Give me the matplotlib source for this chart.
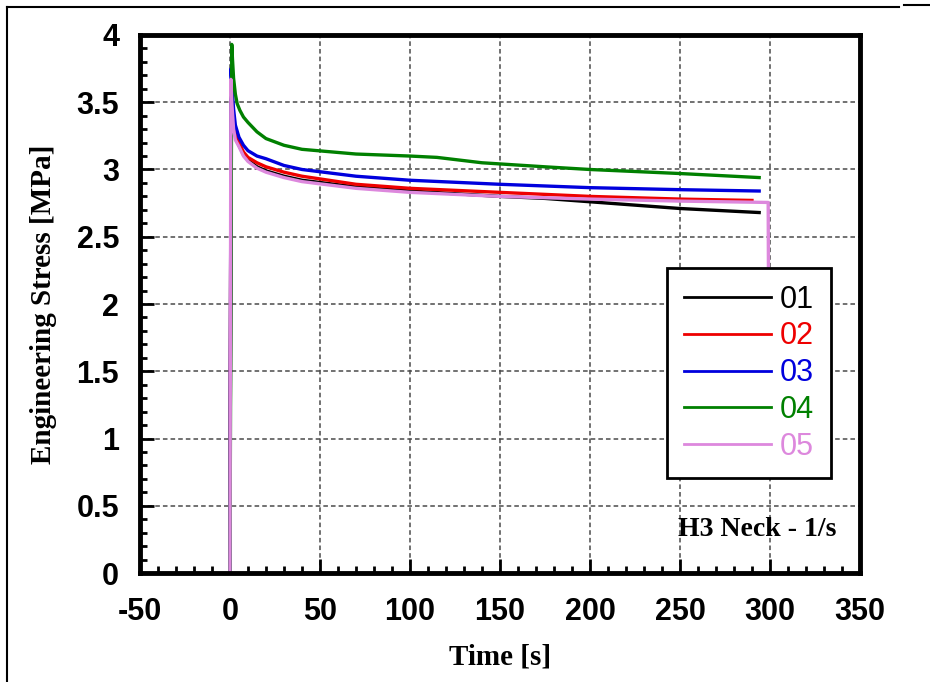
import matplotlib.pyplot as plt
from matplotlib.lines import Line2D
from matplotlib.ticker import MultipleLocator

plt.rcParams["axes.unicode_minus"] = False

# values
t01 = [0, 0.6, 1.2, 2, 3, 5, 7.5, 10, 15, 20, 30, 40, 70, 100, 150, 175, 200, 250, 294]
s01 = [0, 3.62, 3.50, 3.35, 3.26, 3.18, 3.11, 3.07, 3.02, 2.99, 2.95, 2.92, 2.87, 2.84, 2.80, 2.785, 2.76, 2.71, 2.68]

t02 = [0, 0.6, 1.2, 2, 3, 5, 7.5, 10, 15, 20, 30, 40, 70, 100, 150, 200, 250, 290]
s02 = [0, 3.65, 3.52, 3.38, 3.28, 3.20, 3.13, 3.09, 3.05, 3.02, 2.98, 2.95, 2.89, 2.86, 2.83, 2.80, 2.78, 2.77]

t03 = [0, 0.6, 1.2, 2, 3, 5, 7.5, 10, 15, 20, 30, 40, 70, 100, 150, 200, 250, 294]
s03 = [0, 3.75, 3.60, 3.45, 3.33, 3.24, 3.18, 3.14, 3.10, 3.08, 3.03, 3.00, 2.95, 2.92, 2.89, 2.865, 2.85, 2.84]

t04 = [0, 1, 1.4, 2, 3, 4, 5.5, 7.5, 10, 15, 20, 30, 40, 70, 100, 115, 140, 175, 200, 250, 294]
s04 = [0, 3.93, 3.82, 3.68, 3.56, 3.49, 3.44, 3.39, 3.35, 3.28, 3.23, 3.18, 3.15, 3.115, 3.10, 3.09, 3.05, 3.02, 3.00, 2.97, 2.94]

t05 = [0, 0.5, 1, 2, 3, 5, 7.5, 10, 15, 20, 30, 40, 70, 100, 150, 200, 250, 299, 299.5]
s05 = [0, 3.67, 3.50, 3.30, 3.22, 3.17, 3.10, 3.06, 3.01, 2.98, 2.94, 2.91, 2.86, 2.83, 2.80, 2.78, 2.765, 2.755, 1.0]

series = [
    ("01", t01, s01, "black"),
    ("02", t02, s02, "#ee0000"),
    ("03", t03, s03, "#0000dd"),
    ("04", t04, s04, "#008000"),
    ("05", t05, s05, "#dd88dd"),
]

sans = ["Liberation Sans", "DejaVu Sans"]
serif = ["Liberation Serif", "DejaVu Serif"]

fig = plt.figure(figsize=(9.3, 6.82), dpi=100)
ax = fig.add_axes([0.1505, 0.1598, 0.7742, 0.7889])

for name, t, s, c in series:
    ax.plot(t, s, color=c, lw=2.4, label=name, solid_joinstyle="round")

ax.set_xlim(-50, 350)
ax.set_ylim(0, 4)
ax.xaxis.set_major_locator(MultipleLocator(50))
ax.xaxis.set_minor_locator(MultipleLocator(10))
ax.yaxis.set_minor_locator(MultipleLocator(0.1))
ax.set_yticks([0, 0.5, 1, 1.5, 2, 2.5, 3, 3.5, 4])
ax.set_yticklabels(["0", "0.5", "1", "1.5", "2", "2.5", "3", "3.5", "4"])

ax.grid(True, which="major", color="#4a4a4a", ls=(0, (3, 2)), lw=1.1)
ax.tick_params(which="major", direction="in", length=10, width=2)
ax.tick_params(which="minor", direction="in", length=5, width=2)
ax.tick_params(axis="x", which="major", pad=17)
ax.tick_params(axis="y", which="major", pad=15)
ax.tick_params(top=False, right=False, which="both")
for sp in ax.spines.values():
    sp.set_linewidth(3.5)

for lab in ax.get_xticklabels() + ax.get_yticklabels():
    lab.set_family(sans)
    lab.set_fontweight("bold")
    lab.set_fontsize(22)

ax.set_xlabel("Time [s]", family=serif, fontweight="bold", fontsize=21, labelpad=12)
ax.set_ylabel("Engineering Stress [MPa]", family=serif, fontweight="bold", fontsize=21, labelpad=14)

leg = ax.legend(loc="upper left", bbox_to_anchor=(0.732, 0.567), borderaxespad=0,
                fancybox=False, edgecolor="black", framealpha=1,
                prop={"family": sans, "size": 22}, labelcolor="linecolor",
                handlelength=2.85, handletextpad=0.3, labelspacing=0.22, borderpad=0.55)
leg.get_frame().set_linewidth(2)
for h in leg.get_lines():
    h.set_linewidth(2)

ax.text(0.967, 0.08, "H3 Neck - 1/s", transform=ax.transAxes, ha="right", va="center",
        family=serif, fontweight="bold", fontsize=20)

# outer frame of the picture
fig.add_artist(Line2D([0.007, 0.007], [0.0, 0.99], transform=fig.transFigure, color="black", lw=1.5))
fig.add_artist(Line2D([0.007, 0.967], [0.99, 0.99], transform=fig.transFigure, color="black", lw=1.5))
fig.add_artist(Line2D([0.972, 1.0], [0.993, 0.993], transform=fig.transFigure, color="black", lw=1.5))

fig.savefig("out.png", dpi=100)
